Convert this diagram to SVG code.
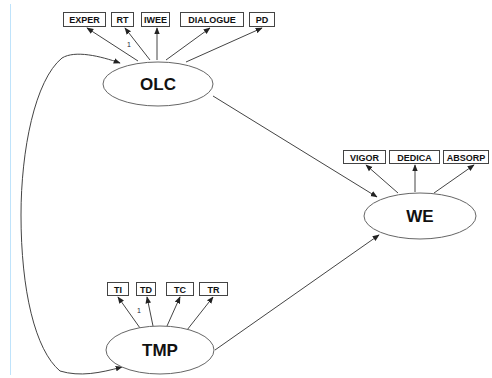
<svg xmlns="http://www.w3.org/2000/svg" width="492" height="378" viewBox="0 0 492 378">
  <defs>
    <marker id="ah" viewBox="0 0 10 10" refX="9" refY="5" markerWidth="7" markerHeight="7" markerUnits="userSpaceOnUse" orient="auto-start-reverse">
      <path d="M0,1 L10,5 L0,9 z" fill="#222"/>
    </marker>
  </defs>
  <style>
    .box { fill: #fff; stroke: #444; stroke-width: 1; }
    .bt { font-family: "Liberation Sans", Arial, sans-serif; font-weight: bold; font-size: 9px; fill: #111; text-anchor: middle; }
    .lat { fill: #fff; stroke: #666; stroke-width: 1; }
    .lt { font-family: "Liberation Sans", Arial, sans-serif; font-weight: bold; font-size: 17px; fill: #111; text-anchor: middle; }
    .w { font-family: "Liberation Sans", Arial, sans-serif; font-size: 7px; fill: #223; text-anchor: middle; }
    .c { stroke: #444; stroke-width: 1; fill: none; marker-end: url(#ah); }
    .cov { stroke: #444; stroke-width: 1; fill: none; marker-start: url(#ah); marker-end: url(#ah); }
  </style>

  <!-- page margin guide -->
  <line x1="10.5" y1="4" x2="10.5" y2="375" stroke="#bfe3fb" stroke-width="1"/>

  <g id="connectors">
    <!-- OLC indicators -->
    <line class="c" x1="138" y1="61" x2="87" y2="28"/>
    <line class="c" x1="150" y1="60" x2="125" y2="28"/>
    <line class="c" x1="157" y1="60" x2="157" y2="28"/>
    <line class="c" x1="166" y1="60" x2="210" y2="28"/>
    <line class="c" x1="186" y1="62" x2="262" y2="28"/>
    <!-- WE indicators -->
    <line class="c" x1="398" y1="193" x2="366" y2="165"/>
    <line class="c" x1="415" y1="192" x2="415" y2="165"/>
    <line class="c" x1="434" y1="193" x2="474" y2="165"/>
    <!-- TMP indicators -->
    <line class="c" x1="140" y1="328" x2="118" y2="297"/>
    <line class="c" x1="153" y1="326" x2="147" y2="297"/>
    <line class="c" x1="167" y1="326" x2="180" y2="297"/>
    <line class="c" x1="187" y1="330" x2="213" y2="297"/>
    <!-- structural paths -->
    <line class="c" x1="213" y1="96" x2="377" y2="197"/>
    <line class="c" x1="215" y1="350" x2="379" y2="235"/>
    <!-- covariance OLC <-> TMP -->
    <path class="cov" d="M120,63 C100,56 75,50 62,58 C35,80 21,150 21,215 C21,290 35,350 60,371 C80,377 100,373 122,367"/>
  </g>

  <g id="EXPER"><rect class="box" x="63.5" y="12.5" width="42" height="14"/><text class="bt" x="84.5" y="23">EXPER</text></g>
  <g id="RT"><rect class="box" x="111.5" y="12.5" width="22" height="14"/><text class="bt" x="122.5" y="23">RT</text></g>
  <g id="IWEE"><rect class="box" x="141.5" y="12.5" width="28" height="14"/><text class="bt" x="155.5" y="23">IWEE</text></g>
  <g id="DIALOGUE"><rect class="box" x="180.5" y="12.5" width="63" height="14"/><text class="bt" x="212" y="23">DIALOGUE</text></g>
  <g id="PD"><rect class="box" x="249.5" y="12.5" width="25" height="14"/><text class="bt" x="262" y="23">PD</text></g>

  <g id="OLC"><ellipse class="lat" cx="158" cy="84" rx="55" ry="22"/><text class="lt" x="158" y="90">OLC</text></g>
  <text class="w" x="129" y="47">1</text>

  <g id="VIGOR"><rect class="box" x="343.5" y="150.5" width="42" height="13"/><text class="bt" x="364.5" y="160.5">VIGOR</text></g>
  <g id="DEDICA"><rect class="box" x="389.5" y="150.5" width="50" height="13"/><text class="bt" x="414.5" y="160.5">DEDICA</text></g>
  <g id="ABSORP"><rect class="box" x="443.5" y="150.5" width="45" height="13"/><text class="bt" x="466" y="160.5">ABSORP</text></g>

  <g id="WE"><ellipse class="lat" cx="420" cy="216" rx="56" ry="23"/><text class="lt" x="420" y="222">WE</text></g>

  <g id="TI"><rect class="box" x="107.5" y="282.5" width="21" height="13"/><text class="bt" x="118" y="292.5">TI</text></g>
  <g id="TD"><rect class="box" x="136.5" y="282.5" width="19" height="13"/><text class="bt" x="146" y="292.5">TD</text></g>
  <g id="TC"><rect class="box" x="166.5" y="282.5" width="27" height="13"/><text class="bt" x="180" y="292.5">TC</text></g>
  <g id="TR"><rect class="box" x="199.5" y="282.5" width="28" height="13"/><text class="bt" x="213.5" y="292.5">TR</text></g>

  <g id="TMP"><ellipse class="lat" cx="160" cy="350" rx="54" ry="24"/><text class="lt" x="160" y="356">TMP</text></g>
  <text class="w" x="139" y="313">1</text>
</svg>
